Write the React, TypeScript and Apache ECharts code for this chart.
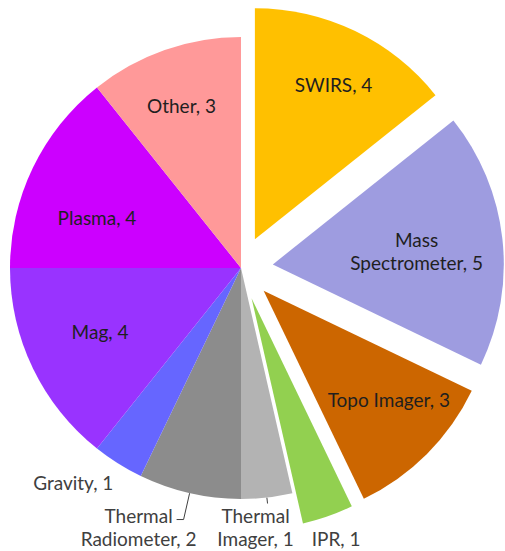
import React, { useEffect, useRef } from "react";
import * as echarts from "echarts";

const categories = ["SWIRS", "Mass Spectrometer", "Topo Imager", "IPR", "Thermal Imager", "Thermal Radiometer", "Gravity", "Mag", "Plasma", "Other"];
const labelNames = ["SWIRS", "Mass\nSpectrometer", "Topo Imager", "IPR", "Thermal\nImager", "Thermal\nRadiometer", "Gravity", "Mag", "Plasma", "Other"];
const values = [4, 5, 3, 1, 1, 2, 1, 4, 4, 3];
const exploded = [true, true, true, true, false, false, false, false, false, false];
const colors = ["#FFC000", "#9E9CE0", "#CC6600", "#92D050", "#B3B3B3", "#8C8C8C", "#6666FF", "#9933FF", "#CC00FF", "#FF9999"];
const outsideLabel = [false, false, false, true, true, true, true, false, false, false];

const FONT = "Lato";
const FS = 19;

// label placement: radial length of the (hidden or shown) label line, second segment, and fine offsets
const lineLen = [-59.4, -114.1, -76.6, 23.8, 6, 27, 22, -76.2, -78.6, -57.5];
const lineLen2 = [4.2, 27.6, 16, 0.4, 0, 7, 0, 0, 0, 0];
const lineShown = [false, false, false, false, true, true, false, false, false, false];
const labelDx = [0, 0, 0, 0, -12, -38, 7, -1.5, -6.7, -2.2];
const labelDy = [0, 0, 0, 0, 0, -16, 0, -3.2, 16.1, 0.8];
const labelAlign = ["center", "center", "center", "center", "center", "center", "right", "center", "center", "center"];
const labelVAlign = ["middle", "middle", "middle", "middle", "top", "top", "middle", "middle", "middle", "middle"];

export default function App() {
  const ref = useRef<HTMLDivElement>(null);
  useEffect(() => {
    const chart = echarts.init(ref.current!, null, { renderer: "svg" });
    const center = [241, 268];
    const R = 231;
    const data = categories.map((c, i) => ({
      name: c,
      value: values[i],
      selected: exploded[i],
      itemStyle: { color: colors[i] },
      label: { color: outsideLabel[i] ? "#404040" : "#1f1f1f" },
      labelLine: { show: lineShown[i], length: lineLen[i], length2: lineLen2[i] },
    }));
    chart.setOption({
      animation: false,
      series: [
        {
          type: "pie",
          center,
          radius: R,
          startAngle: 90,
          clockwise: true,
          selectedMode: "multiple",
          selectedOffset: 32,
          avoidLabelOverlap: false,
          silent: true,
          data,
          select: { itemStyle: { borderWidth: 0 } },
          label: {
            show: true,
            position: "outside",
            formatter: (p: any) => labelNames[p.dataIndex] + ", " + p.value,
            fontFamily: FONT,
            fontSize: FS,
            lineHeight: 23,
            distanceToLabelLine: 0,
          },
          labelLine: { lineStyle: { color: "#404040", width: 1 } },
          labelLayout: (params: any) => {
            const pts = params.labelLinePoints;
            const i = params.dataIndex;
            if (!pts || exploded[i]) {
              return { align: labelAlign[i], verticalAlign: labelVAlign[i] };
            }
            const e = pts[pts.length - 1];
            return {
              x: e[0] + labelDx[i],
              y: e[1] + labelDy[i],
              align: labelAlign[i],
              verticalAlign: labelVAlign[i],
              labelLinePoints: pts,
            };
          },
        },
      ],
    });
    return () => chart.dispose();
  }, []);
  return <div ref={ref} style={{ position: "fixed", left: 0, top: 0, width: 505, height: 551, background: "#fff" }} />;
}
